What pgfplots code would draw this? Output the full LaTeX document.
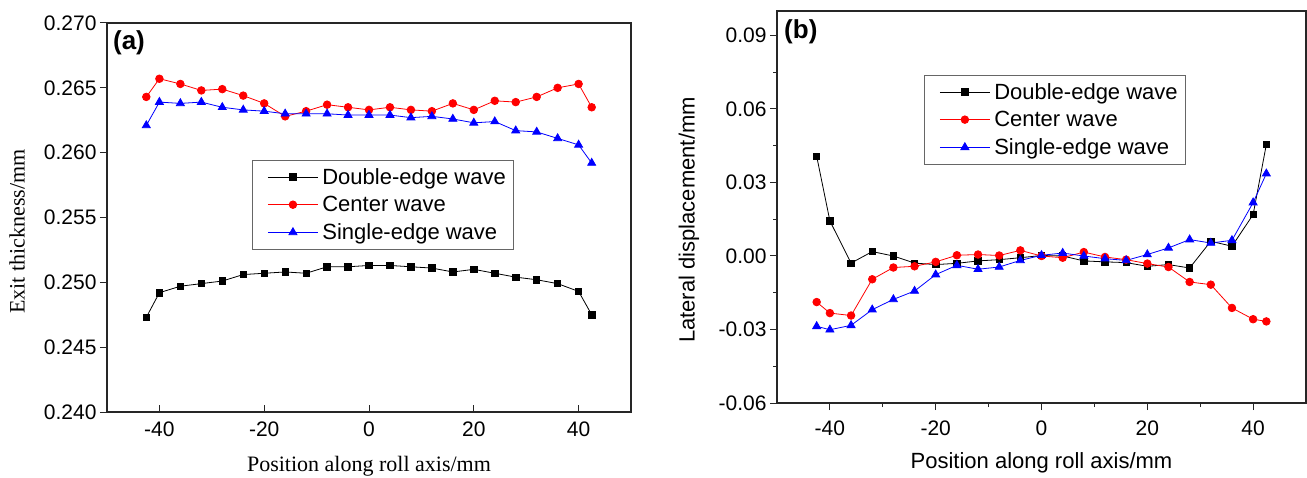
\documentclass[border=0pt]{standalone}
\usepackage{pgfplots}
\usepackage{pgfplotstable}
\pgfplotsset{compat=1.18}
\usepackage{fontspec}
\setmainfont{Liberation Sans}
\newfontfamily\timesfont{Liberation Serif}

\pgfplotstableread{
x dbl ctr sgl
-42.5 0.2473 0.2643 0.2621
-40 0.2492 0.2657 0.2639
-36 0.2497 0.2653 0.2638
-32 0.2499 0.2648 0.2639
-28 0.2501 0.2649 0.2635
-24 0.2506 0.2644 0.2633
-20 0.2507 0.2638 0.2632
-16 0.2508 0.2628 0.2630
-12 0.2507 0.2632 0.2630
-8 0.2512 0.2637 0.2630
-4 0.2512 0.2635 0.2629
0 0.2513 0.2633 0.2629
4 0.2513 0.2635 0.2629
8 0.2512 0.2633 0.2627
12 0.2511 0.2632 0.2628
16 0.2508 0.2638 0.2626
20 0.2510 0.2633 0.2623
24 0.2507 0.2640 0.2624
28 0.2504 0.2639 0.2617
32 0.2502 0.2643 0.2616
36 0.2499 0.2650 0.2611
40 0.2493 0.2653 0.2606
42.5 0.2475 0.2635 0.2592
}\dataA

\pgfplotstableread{
x dbl ctr sgl
-42.5 0.0407 -0.0188 -0.0287
-40 0.0143 -0.0233 -0.0301
-36 -0.0029 -0.0243 -0.0283
-32 0.0018 -0.0095 -0.0219
-28 0.0000 -0.0047 -0.0177
-24 -0.0029 -0.0042 -0.0143
-20 -0.0035 -0.0024 -0.0076
-16 -0.0030 0.0003 -0.0038
-12 -0.0020 0.0006 -0.0054
-8 -0.0015 0.0002 -0.0045
-4 -0.0007 0.0023 -0.0018
0 0.0002 0.0000 0.0003
4 0.0000 -0.0007 0.0012
8 -0.0020 0.0016 0.0000
12 -0.0024 -0.0004 -0.0011
16 -0.0027 -0.0015 -0.0018
20 -0.0042 -0.0031 0.0006
24 -0.0035 -0.0045 0.0033
28 -0.0049 -0.0106 0.0067
32 0.0060 -0.0117 0.0053
36 0.0040 -0.0212 0.0064
40 0.0169 -0.0258 0.0218
42.5 0.0455 -0.0267 0.0336
}\dataB

\pgfplotsset{
  common/.style={
    scale only axis,
    xmin=-50, xmax=50,
    xtick={-40,-20,0,20,40},
    axis line style={line width=1.1pt, black!85},
    tick style={line width=1pt, black!85},
    xtick pos=bottom, ytick pos=left,
    major tick length=7pt,
    minor tick length=4pt,
    ticklabel style={font=\fontsize{21}{25}\selectfont},
    /pgf/number format/assume math mode=true,
    scaled y ticks=false,
    legend cell align=left,
    legend image code/.code={\path (0pt,0pt); \draw[mark repeat=2,mark phase=2] plot coordinates {(11pt,0pt) (36pt,0pt) (61pt,0pt)};},
    legend style={font=\fontsize{22}{26}\selectfont, draw=black!60, line width=0.8pt,
      inner xsep=4pt, inner ysep=6pt, row sep=6.5pt, anchor=north west, fill=white,
      nodes={inner xsep=4pt}},
  },
  sq/.style={black, line width=0.8pt, mark=square*, mark size=3.2pt, mark options={solid}},
  ci/.style={red, line width=0.8pt, mark=*, mark size=3.8pt, mark options={solid}},
  tr/.style={blue, line width=0.8pt, mark=triangle*, mark size=4.6pt, mark options={solid}},
}

\begin{document}
\begin{tikzpicture}
\useasboundingbox (0pt,0pt) rectangle (1307pt,477pt);
% Panel (a)
\begin{axis}[common,
  at={(107pt,65pt)}, anchor=south west,
  width=524pt, height=389pt,
  ymin=0.240, ymax=0.270,
  ytick={0.240,0.245,0.250,0.255,0.260,0.265,0.270},
  yticklabel style={/pgf/number format/.cd, fixed, fixed zerofill, precision=3},
  xticklabel style={yshift=-6pt},
  xtick align=inside, ytick align=outside,
  xlabel={\timesfont Position along roll axis/mm},
  ylabel={\timesfont Exit thickness/mm},
  xlabel style={font=\fontsize{22}{26}\selectfont, at={(axis description cs:0.5,0)}, anchor=center, yshift=-54pt},
  ylabel style={font=\fontsize{22}{26}\selectfont, at={(axis description cs:-0.1718,0.464)}, anchor=center},
  legend style={at={(0.277,0.648)}},
]
\addplot[sq] table[x=x,y=dbl]{\dataA};
\addplot[ci] table[x=x,y=ctr]{\dataA};
\addplot[tr] table[x=x,y=sgl]{\dataA};
\legend{Double-edge wave, Center wave, Single-edge wave}
\node[font=\bfseries\fontsize{26}{30}\selectfont] at (axis description cs:0.042,0.949) {(a)};
\end{axis}
% Panel (b)
\begin{axis}[common,
  at={(777pt,74pt)}, anchor=south west,
  width=529pt, height=392pt,
  ymin=-0.06, ymax=0.10,
  ytick={-0.06,-0.03,0,0.03,0.06,0.09},
  minor x tick num=1, minor y tick num=1,
  yticklabel style={/pgf/number format/.cd, fixed, fixed zerofill, precision=2},
  xticklabel style={yshift=-7pt},
  xtick align=outside, ytick align=outside,
  xlabel={Position along roll axis/mm},
  ylabel={Lateral displacement/mm},
  xlabel style={font=\fontsize{22}{26}\selectfont, at={(axis description cs:0.5,0)}, anchor=center, yshift=-60pt},
  ylabel style={font=\fontsize{22}{26}\selectfont, at={(axis description cs:-0.1664,0.4668)}, anchor=center},
  legend style={at={(0.278,0.837)}},
]
\addplot[sq] table[x=x,y=dbl]{\dataB};
\addplot[ci] table[x=x,y=ctr]{\dataB};
\addplot[tr] table[x=x,y=sgl]{\dataB};
\legend{Double-edge wave, Center wave, Single-edge wave}
\node[font=\bfseries\fontsize{26}{30}\selectfont] at (axis description cs:0.045,0.948) {(b)};
\end{axis}
\end{tikzpicture}
\end{document}
